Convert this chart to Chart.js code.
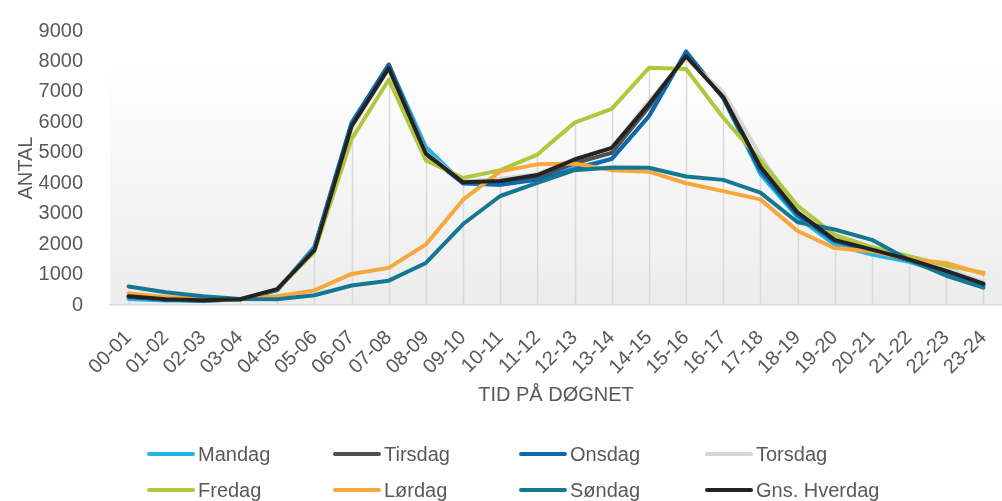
<!DOCTYPE html>
<html lang="no">
<head>
<meta charset="utf-8">
<title>Antal pr. time på døgnet</title>
<script src="https://cdn.jsdelivr.net/npm/chart.js@4.4.1/dist/chart.umd.min.js"></script>
<style>
  html, body { margin: 0; padding: 0; background: #fff; }
  #wrap { position: relative; width: 1002px; height: 501px; overflow: hidden; }
  #legend {
    position: absolute; left: 147px; top: 442px;
    display: grid; grid-template-columns: repeat(4, 186px); row-gap: 12px;
    font-family: "Liberation Sans", Arial, sans-serif; font-size: 20px; color: #595959;
  }
  .item { display: flex; align-items: center; height: 24px; white-space: nowrap; }
  .swatch { width: 48px; height: 4px; border-radius: 2px; margin-right: 3px; }
</style>
</head>
<body>
<div id="wrap">
  <canvas id="timeChart" width="1002" height="501"></canvas>
  <div id="legend"></div>
</div>
<script>
// kategorier (timer)
const hours = ['00-01', '01-02', '02-03', '03-04', '04-05', '05-06', '06-07', '07-08',
  '08-09', '09-10', '10-11', '11-12', '12-13', '13-14', '14-15', '15-16',
  '16-17', '17-18', '18-19', '19-20', '20-21', '21-22', '22-23', '23-24'];

const yTicks = [0, 1000, 2000, 3000, 4000, 5000, 6000, 7000, 8000, 9000];

// serier
const mandag = [200, 150, 140, 180, 480, 1920, 6000, 7900, 5190, 4000, 3950, 4150,
  4500, 4800, 6200, 8300, 6800, 4300, 2880, 1980, 1660, 1420, 1050, 620];
const tirsdag = [280, 180, 150, 180, 500, 1850, 5950, 7880, 5000, 4000, 4050, 4200,
  4650, 5000, 6500, 8200, 6850, 4500, 3000, 2100, 1800, 1480, 1100, 680];
const onsdag = [260, 170, 150, 180, 500, 1850, 5950, 7900, 4950, 4000, 3950, 4110,
  4450, 4800, 6200, 8330, 6800, 4400, 2950, 2100, 1800, 1480, 1100, 650];
const torsdag = [300, 200, 170, 190, 530, 1800, 5800, 7750, 5000, 4050, 4150, 4300,
  4800, 5150, 6700, 8100, 6990, 4900, 3100, 2200, 1900, 1550, 1200, 750];
const fredag = [300, 200, 170, 180, 520, 1750, 5450, 7400, 4750, 4170, 4430, 4940,
  5990, 6440, 7790, 7750, 6150, 4750, 3260, 2300, 1900, 1600, 1300, 1060];
const lordag = [380, 260, 200, 200, 290, 480, 1020, 1220, 1990, 3460, 4390, 4620,
  4650, 4430, 4380, 4000, 3740, 3470, 2430, 1870, 1760, 1500, 1380, 1020];
const sondag = [610, 420, 290, 200, 190, 320, 640, 800, 1380, 2660, 3580, 4010,
  4430, 4520, 4510, 4220, 4110, 3690, 2720, 2480, 2140, 1480, 960, 570];
const gnsHverdag = [290, 190, 160, 190, 520, 1800, 5870, 7780, 4970, 4030, 4070, 4270,
  4780, 5160, 6600, 8170, 6830, 4540, 3040, 2140, 1820, 1500, 1120, 700];

const series = [
  { label: 'Mandag', data: mandag, color: '#1fb6e9' },
  { label: 'Tirsdag', data: tirsdag, color: '#505050' },
  { label: 'Onsdag', data: onsdag, color: '#1067ab' },
  { label: 'Torsdag', data: torsdag, color: '#d6d6d6' },
  { label: 'Fredag', data: fredag, color: '#afc83c' },
  { label: 'Lørdag', data: lordag, color: '#f7a83d' },
  { label: 'Søndag', data: sondag, color: '#157893' },
  { label: 'Gns. Hverdag', data: gnsHverdag, color: '#232323' }
];

const font = "'Liberation Sans', Arial, sans-serif";
const textColor = '#595959';

// gradient bag plotområdet
const plotBackground = {
  id: 'plotBackground',
  beforeDraw(chart) {
    const { ctx, chartArea: a } = chart;
    const g = ctx.createLinearGradient(0, a.top, 0, a.bottom);
    g.addColorStop(0, '#ffffff');
    g.addColorStop(0.12, '#ffffff');
    g.addColorStop(1, '#ececec');
    ctx.save();
    ctx.fillStyle = g;
    ctx.fillRect(a.left, a.top, a.right - a.left, a.bottom - a.top);
    ctx.restore();
  }
};

// lodrette linjer fra højeste punkt ned til aksen (som Excels "drop lines")
const dropLines = {
  id: 'dropLines',
  beforeDatasetsDraw(chart) {
    const { ctx, scales: { x, y } } = chart;
    ctx.save();
    ctx.strokeStyle = '#d9d9d9';
    ctx.lineWidth = 1.5;
    hours.forEach((h, k) => {
      const top = Math.max(...series.map(s => s.data[k]));
      const px = Math.round(x.getPixelForValue(k)) + 0.5;
      ctx.beginPath();
      ctx.moveTo(px, y.getPixelForValue(top));
      ctx.lineTo(px, y.getPixelForValue(0));
      ctx.stroke();
    });
    ctx.restore();
  }
};

const datasets = series.map((s, i) => ({
  label: s.label,
  data: s.data,
  borderColor: s.color,
  backgroundColor: s.color,
  borderWidth: 4,
  pointRadius: 0,
  tension: 0,
  borderJoinStyle: 'round',
  borderCapStyle: 'round',
  fill: false,
  order: series.length - i
}));

new Chart(document.getElementById('timeChart'), {
  type: 'line',
  data: { labels: hours, datasets: datasets },
  plugins: [plotBackground, dropLines],
  options: {
    responsive: false,
    devicePixelRatio: 1,
    animation: false,
    // plotområdet fortsætter lidt ud over højre kant, som i originalen
    layout: { padding: { top: 14, right: -18, bottom: 90, left: 0 } },
    plugins: {
      legend: { display: false },
      tooltip: { enabled: false }
    },
    scales: {
      x: {
        offset: true,
        afterFit(scale) {
          scale.height = 106;
          scale.paddingLeft = 0;
          scale.paddingRight = 0;
        },
        grid: { display: false, drawTicks: false },
        border: { color: '#d9d9d9', width: 1.5 },
        ticks: {
          autoSkip: false,
          minRotation: 45,
          maxRotation: 45,
          padding: 21,
          color: textColor,
          font: { family: font, size: 20 }
        },
        title: {
          display: true,
          text: 'TID PÅ DØGNET',
          color: textColor,
          font: { family: font, size: 20 },
          padding: { top: 4, bottom: 4 }
        }
      },
      y: {
        min: yTicks[0],
        max: yTicks[yTicks.length - 1],
        afterFit(scale) { scale.width = 110; },
        grid: { display: false },
        border: { display: false },
        afterBuildTicks(scale) { scale.ticks = yTicks.map(v => ({ value: v })); },
        ticks: {
          padding: 19,
          color: textColor,
          font: { family: font, size: 20 },
          callback: (v) => String(v)
        },
        title: {
          display: true,
          text: 'ANTAL',
          color: textColor,
          font: { family: font, size: 20 },
          padding: { top: 14, bottom: 0 }
        }
      }
    }
  }
});

// legende i fire kolonner
const legend = document.getElementById('legend');
series.forEach(s => {
  const item = document.createElement('div');
  item.className = 'item';
  const sw = document.createElement('span');
  sw.className = 'swatch';
  sw.style.background = s.color;
  const txt = document.createElement('span');
  txt.textContent = s.label;
  item.appendChild(sw);
  item.appendChild(txt);
  legend.appendChild(item);
});
</script>
</body>
</html>
